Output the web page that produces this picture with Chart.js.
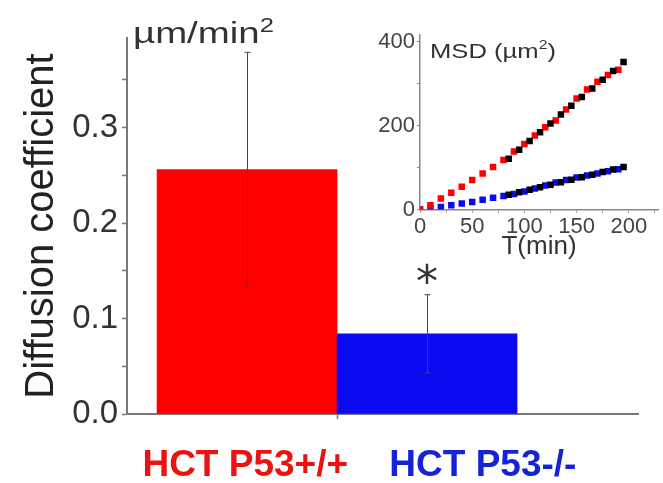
<!DOCTYPE html>
<html lang="en">
<head>
    <meta charset="UTF-8">
    <title>Diffusion coefficient</title>
    <style>
        body {
            margin: 0;
            background: #fff;
        }

        .wrap {
            position: relative;
            width: 663px;
            height: 483px;
        }

        #mainChart {
            position: absolute;
            left: 0;
            top: 0;
        }

        #msdChart {
            position: absolute;
            left: 360px;
            top: 20px;
        }
    </style>
    <script src="https://cdn.jsdelivr.net/npm/chart.js"></script>
</head>
<body>
    <div class="wrap">
        <canvas id="mainChart" width="663" height="483"></canvas>
        <canvas id="msdChart" width="303" height="242"></canvas>
    </div>

    <script>
        // Bar chart: mean diffusion coefficient per cell line
        const cellLines = ['HCT P53+/+', 'HCT P53-/-'];
        const diffusion = [0.256, 0.084];
        const diffusionErr = [0.123, 0.041];
        const barColors = ['#ff0000', '#0a0af0'];
        const labelColors = ['#ee1111', '#1422d8'];

        // Inset: MSD curves (10 min sampling) and their linear fits
        const timeMin = [0, 10, 20, 30, 40, 50, 60, 70, 80, 90, 100, 110, 120, 130, 140, 150, 160, 170, 180, 190];
        const msdWildType = [0, 10, 26, 40, 54, 70, 86, 101, 118, 138, 156, 176, 196, 212, 238, 264, 286, 304, 320, 333];
        const msdKnockout = [0, 2, 6, 10, 14, 18, 23, 28, 32, 37, 43, 50, 57, 64, 70, 76, 81, 86, 91, 96];
        const fitTimeMin = [85, 95, 105, 115, 125, 135, 145, 155, 165, 175, 185, 195];
        const fitWildType = [121, 142, 163, 184, 205, 226, 247, 268, 288, 309, 330, 351];
        const fitKnockout = [35, 41, 47, 53, 59, 65, 71, 77, 83, 89, 95, 101];

        Chart.defaults.font.family = "'Liberation Sans', Arial, sans-serif";
        Chart.defaults.color = '#333';
        Chart.defaults.animation = false;

        const barX = [1, 2];          // bar centres on the linear x scale
        const labelX = [0.99, 2.31];  // where the group names sit

        function isMultiple(v, step) {
            return Math.abs(v / step - Math.round(v / step)) < 1e-6;
        }

        function drawStretched(ctx, parts, x, y, sx) {
            ctx.save();
            ctx.translate(x, y);
            ctx.scale(sx, 1);
            let cx = 0;
            parts.forEach(p => {
                ctx.font = p.font;
                ctx.fillText(p.text, cx, p.dy || 0);
                cx += ctx.measureText(p.text).width;
            });
            ctx.restore();
        }

        const barExtras = {
            id: 'barExtras',
            afterDatasetsDraw(chart) {
                const {ctx, chartArea, scales: {x, y}} = chart;
                ctx.save();
                ctx.strokeStyle = '#444';
                ctx.lineWidth = 1;
                barX.forEach((pos, i) => {
                    const px = Math.round(x.getPixelForValue(pos)) + 0.5;
                    const top = y.getPixelForValue(diffusion[i] + diffusionErr[i]);
                    const bot = y.getPixelForValue(diffusion[i] - diffusionErr[i]);
                    ctx.beginPath();
                    ctx.moveTo(px, top);
                    ctx.lineTo(px, bot);
                    ctx.moveTo(px - 3, top);
                    ctx.lineTo(px + 3, top);
                    ctx.moveTo(px - 3, bot);
                    ctx.lineTo(px + 3, bot);
                    ctx.stroke();
                });

                // significance mark over the knockout bar
                const sx = x.getPixelForValue(barX[1]);
                const sy = y.getPixelForValue(diffusion[1] + diffusionErr[1]);
                ctx.fillStyle = '#333';
                ctx.font = "44px 'DejaVu Sans'";
                ctx.textAlign = 'center';
                ctx.textBaseline = 'alphabetic';
                ctx.fillText('*', sx, sy + 2);

                // unit above the y axis
                ctx.textAlign = 'left';
                ctx.fillStyle = '#333';
                drawStretched(ctx, [
                    {text: 'µm/min', font: "30px 'Liberation Sans'"},
                    {text: '2', font: "20px 'Liberation Sans'", dy: -11}
                ], chartArea.left + 6, chartArea.top + 5, 1.28);
                ctx.restore();
            }
        };

        new Chart(document.getElementById('mainChart'), {
            type: 'bar',
            data: {
                datasets: [{
                    data: diffusion.map((v, i) => ({x: barX[i], y: v})),
                    backgroundColor: barColors,
                    borderWidth: 0,
                    barThickness: 'flex',
                    barPercentage: 1,
                    categoryPercentage: 1
                }]
            },
            options: {
                responsive: false,
                layout: {padding: {top: 38, right: 25, left: 0, bottom: 0}},
                plugins: {legend: {display: false}, tooltip: {enabled: false}},
                scales: {
                    x: {
                        type: 'linear',
                        offset: false,
                        min: 0.333,
                        max: 3.172,
                        afterFit: s => { s.height = 69; },
                        afterBuildTicks: s => {
                            s.ticks = [{value: labelX[0]}, {value: 1.5}, {value: labelX[1]}];
                        },
                        grid: {
                            offset: false,
                            drawOnChartArea: false,
                            tickLength: 5,
                            tickWidth: 1.5,
                            tickColor: c => (c.index === 1 ? '#777' : 'rgba(0,0,0,0)')
                        },
                        border: {color: '#777', width: 2},
                        ticks: {
                            autoSkip: false,
                            maxRotation: 0,
                            minRotation: 0,
                            padding: 25,
                            font: {size: 37, weight: 'bold'},
                            color: c => (c.index === 0 ? labelColors[0] : labelColors[1]),
                            callback: (v, i) => (i === 0 ? cellLines[0] : i === 2 ? cellLines[1] : '')
                        }
                    },
                    y: {
                        min: 0,
                        max: 0.394,
                        afterFit: s => { s.width = 127; },
                        grid: {
                            drawOnChartArea: false,
                            tickLength: 5,
                            tickWidth: 1.5,
                            tickColor: '#777'
                        },
                        border: {color: '#777', width: 2},
                        title: {
                            display: true,
                            text: 'Diffusion coefficient',
                            color: '#222',
                            font: {size: 40},
                            padding: {top: 18, bottom: 0}
                        },
                        ticks: {
                            stepSize: 0.05,
                            includeBounds: false,
                            padding: 4,
                            color: '#333',
                            font: {size: 33},
                            callback: v => (isMultiple(v, 0.1) ? v.toFixed(1) : '')
                        }
                    }
                }
            },
            plugins: [barExtras]
        });

        const msdLabel = {
            id: 'msdLabel',
            afterDraw(chart) {
                const {ctx, chartArea} = chart;
                ctx.save();
                ctx.fillStyle = '#333';
                ctx.textBaseline = 'alphabetic';
                drawStretched(ctx, [
                    {text: 'MSD (µm', font: "21px 'Liberation Sans'"},
                    {text: '2', font: "13px 'Liberation Sans'", dy: -9},
                    {text: ')', font: "21px 'Liberation Sans'"}
                ], chartArea.left + 10, chartArea.top + 23, 1.22);
                ctx.restore();
            }
        };

        const pts = (xs, ys) => xs.map((t, i) => ({x: t, y: ys[i]}));
        const square = color => ({
            backgroundColor: color,
            borderWidth: 0,
            pointStyle: 'rect',
            pointRadius: 4.6,
            showLine: false
        });

        new Chart(document.getElementById('msdChart'), {
            type: 'scatter',
            data: {
                datasets: [
                    {label: 'fit +/+', data: pts(fitTimeMin, fitWildType), ...square('#000')},
                    {label: 'fit -/-', data: pts(fitTimeMin, fitKnockout), ...square('#000')},
                    {label: 'P53+/+', data: pts(timeMin, msdWildType), ...square('#ff0000')},
                    {label: 'P53-/-', data: pts(timeMin, msdKnockout), ...square('#0a0af0')}
                ]
            },
            options: {
                responsive: false,
                layout: {padding: {top: 13, right: 5, left: 0, bottom: 0}},
                plugins: {legend: {display: false}, tooltip: {enabled: false}},
                scales: {
                    x: {
                        type: 'linear',
                        min: 0,
                        max: 228,
                        afterFit: s => { s.height = 52.5; },
                        grid: {drawOnChartArea: false, tickLength: 3, tickColor: '#888'},
                        border: {color: '#888', width: 1.5},
                        title: {
                            display: true,
                            text: 'T(min)',
                            color: '#333',
                            font: {size: 26},
                            padding: 0
                        },
                        ticks: {
                            stepSize: 25,
                            includeBounds: false,
                            autoSkip: false,
                            maxRotation: 0,
                            padding: 1,
                            color: '#444',
                            font: {size: 22},
                            callback: v => (isMultiple(v, 50) ? String(v) : '')
                        }
                    },
                    y: {
                        min: 0,
                        max: 415,
                        afterFit: s => { s.width = 60; },
                        grid: {drawOnChartArea: false, tickLength: 3, tickColor: '#888'},
                        border: {color: '#888', width: 1.5},
                        ticks: {
                            stepSize: 100,
                            includeBounds: false,
                            padding: 2,
                            color: '#444',
                            font: {size: 22},
                            callback: v => (isMultiple(v, 200) ? String(v) : '')
                        }
                    }
                }
            },
            plugins: [msdLabel]
        });
    </script>
</body>
</html>
